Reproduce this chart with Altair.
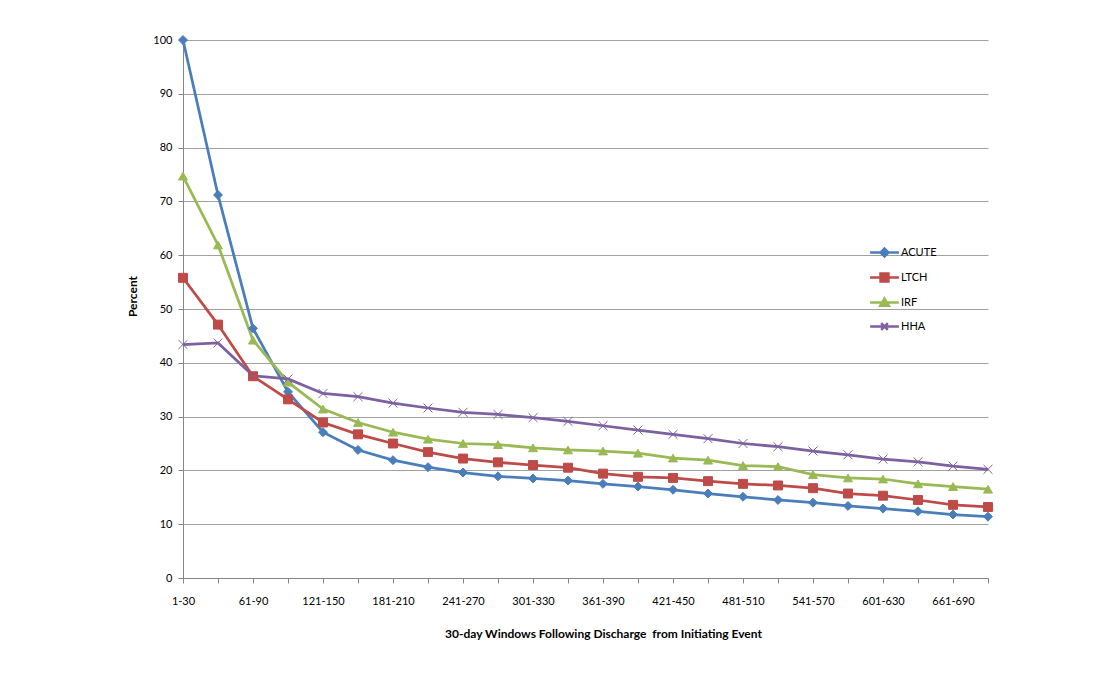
import altair as alt
import pandas as pd

categories = ["1-30", "31-60", "61-90", "91-120", "121-150", "151-180", "181-210", "211-240",
              "241-270", "271-300", "301-330", "331-360", "361-390", "391-420", "421-450",
              "451-480", "481-510", "511-540", "541-570", "571-600", "601-630", "631-660",
              "661-690", "691-720"]
shown_labels = categories[::2]

series_names = ["ACUTE", "LTCH", "IRF", "HHA"]
acute = [100, 71.2, 46.4, 34.6, 27.1, 23.8, 21.9, 20.6, 19.6, 18.9, 18.5, 18.1, 17.5, 17.0,
         16.4, 15.7, 15.1, 14.5, 14.0, 13.4, 12.9, 12.4, 11.8, 11.4]
ltch = [55.8, 47.1, 37.5, 33.2, 28.9, 26.7, 25.0, 23.4, 22.2, 21.5, 21.0, 20.5, 19.4, 18.8,
        18.6, 18.0, 17.5, 17.2, 16.7, 15.7, 15.3, 14.5, 13.6, 13.2]
irf = [74.7, 61.9, 44.2, 36.4, 31.4, 28.9, 27.1, 25.8, 25.0, 24.8, 24.2, 23.8, 23.6, 23.2,
       22.3, 21.9, 20.9, 20.7, 19.2, 18.6, 18.4, 17.5, 17.0, 16.5]
hha = [43.4, 43.7, 37.6, 37.0, 34.3, 33.7, 32.5, 31.6, 30.8, 30.4, 29.8, 29.1, 28.3, 27.5,
       26.7, 25.9, 25.0, 24.4, 23.6, 22.9, 22.1, 21.6, 20.8, 20.2]

colors = ["#4A7EBB", "#BE4B48", "#98B954", "#7D60A0"]

# marker shapes (plot) and legend symbols (line + marker)
marker_shapes = ["diamond", "square", "triangle-up", "M-1,-1L1,1M-1,1L1,-1"]
legend_shapes = [
    "M-1.2,0L1.2,0M0,-0.33L0.33,0L0,0.33L-0.33,0Z",
    "M-1.2,0L1.2,0M-0.33,-0.33L0.33,-0.33L0.33,0.33L-0.33,0.33Z",
    "M-1.2,0L1.2,0M0,-0.33L0.36,0.28L-0.36,0.28Z",
    "M-1.2,0L1.2,0M-0.28,-0.28L0.28,0.28M-0.28,0.28L0.28,-0.28",
]

rows = []
for name, vals in zip(series_names, [acute, ltch, irf, hha]):
    for c, v in zip(categories, vals):
        rows.append({"window": c, "series": name, "key": name, "value": v})
df = pd.DataFrame(rows)

FONT = "Lato"
label_list = "[" + ",".join("'" + s + "'" for s in shown_labels) + "]"

x_enc = alt.X(
    "window:N",
    sort=categories,
    scale=alt.Scale(type="point", padding=0),
    axis=alt.Axis(
        title="30-day Windows Following Discharge\u00a0 from Initiating Event",
        labelExpr="indexof(" + label_list + ", datum.value) >= 0 ? datum.label : ''",
        labelAngle=0,
        labelPadding=12,
        titlePadding=22,
        titleX=420,
        grid=False,
        domainColor="#868686",
        tickColor="#868686",
        tickSize=5,
    ),
)
y_enc = alt.Y(
    "value:Q",
    scale=alt.Scale(domain=[0, 100], nice=False),
    axis=alt.Axis(
        title="Percent",
        values=list(range(0, 101, 10)),
        gridColor="#A0A0A0",
        gridWidth=1,
        domainColor="#868686",
        tickColor="#868686",
        tickSize=5,
        labelPadding=6,
        titlePadding=13,
        titleY=256,
    ),
)

lines = alt.Chart(df).mark_line(strokeWidth=2.75).encode(
    x=x_enc,
    y=y_enc,
    color=alt.Color("series:N", scale=alt.Scale(domain=series_names, range=colors), legend=None),
    detail="series:N",
)

points = alt.Chart(df).mark_point(filled=True, size=80, strokeWidth=1, opacity=1).encode(
    x=x_enc,
    y=y_enc,
    color=alt.Color("series:N", scale=alt.Scale(domain=series_names, range=colors), legend=None),
    stroke=alt.Stroke("series:N", scale=alt.Scale(domain=series_names, range=colors), legend=None),
    shape=alt.Shape("series:N", scale=alt.Scale(domain=series_names, range=marker_shapes), legend=None),
)

leg = alt.Legend(
    title=None,
    orient="none",
    legendX=688,
    legendY=199,
    symbolSize=576,
    symbolStrokeWidth=2.5,
    symbolOpacity=1,
    labelFont=FONT,
    labelFontSize=11,
    labelColor="#000000",
    rowPadding=2,
    labelOffset=3,
)

legend_layer = alt.Chart(df).mark_point(filled=True, opacity=0).encode(
    x=x_enc,
    y=y_enc,
    color=alt.Color("key:N", scale=alt.Scale(domain=series_names, range=colors), legend=leg),
    shape=alt.Shape("key:N", scale=alt.Scale(domain=series_names, range=legend_shapes), legend=leg),
    stroke=alt.Stroke("key:N", scale=alt.Scale(domain=series_names, range=colors), legend=leg),
)

chart = alt.layer(lines, points, legend_layer).resolve_scale(
    shape="independent", color="independent", stroke="independent"
).resolve_legend(
    shape="independent", color="independent", stroke="independent"
).properties(
    width=805,
    height=538,
    autosize=alt.AutoSizeParams(type="none"),
    padding={"left": 175, "top": 32, "right": 121, "bottom": 90},
    background="#FFFFFF",
).configure_view(
    stroke=None
).configure_axis(
    labelFont=FONT,
    labelFontSize=11,
    labelColor="#000000",
    titleFont=FONT,
    titleFontSize=12,
    titleFontWeight="bold",
    titleColor="#000000",
)

chart.save("out.html", embed_options={"renderer": "svg", "actions": False})
